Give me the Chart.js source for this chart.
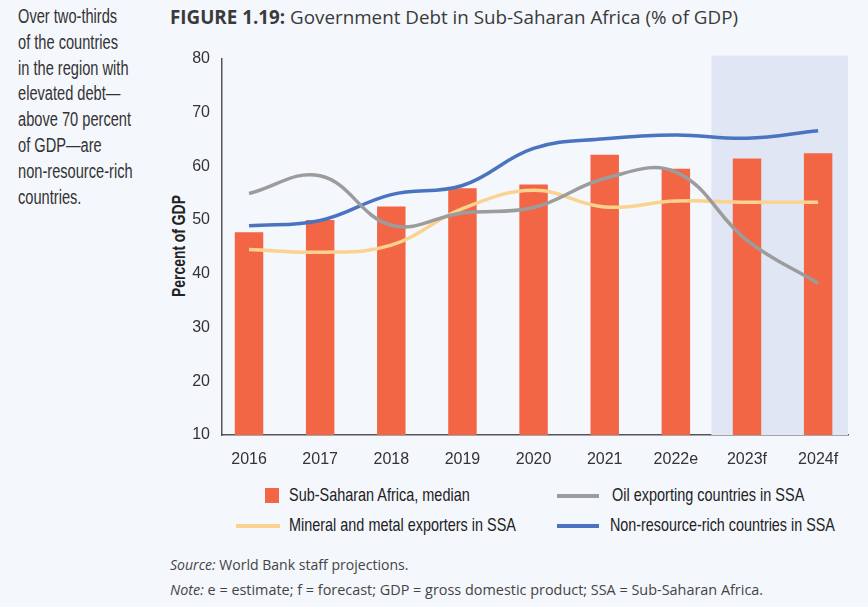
<!DOCTYPE html>
<html>
<head>
<meta charset="utf-8">
<script src="https://cdn.jsdelivr.net/npm/chart.js@4"></script>
<style>
  html, body { margin:0; padding:0; }
  body { width:868px; height:607px; background:#F4F7FC; position:relative; overflow:hidden; font-family:"Open Sans", sans-serif; }
  .fit { position:absolute; white-space:nowrap; transform-origin:left center; }
  #side { position:absolute; left:18px; top:4px; font-family:"Liberation Sans",sans-serif; font-size:19.5px; line-height:25.8px; color:#333; white-space:nowrap; transform-origin:left top; }
  #title { left:170px; top:4px; font-size:19px; color:#3a3a3a; }
  #title b { font-weight:700; }
  #ytitle { position:absolute; left:179px; top:246px; font-family:"Liberation Sans",sans-serif; font-weight:bold; font-size:18.5px; color:#222; white-space:nowrap; }
  #wrap { position:absolute; left:150px; top:37px; width:718px; height:443px; }
  .leg { font-family:"Liberation Sans",sans-serif; font-size:19px; color:#222; }
  .sw { position:absolute; }
  .foot { left:170px; font-size:14px; color:#444; }
</style>
</head>
<body>
<div id="side"><span id="l1">Over two-thirds</span><br>of the countries<br>in the region with<br>elevated debt—<br>above 70 percent<br>of GDP—are<br>non-resource-rich<br>countries.</div>
<div id="title" class="fit" data-w="568"><b>FIGURE 1.19:</b> Government Debt in Sub-Saharan Africa (% of GDP)</div>
<div id="ytitle">Percent of GDP</div>
<div id="wrap"><canvas id="c"></canvas></div>

<div class="sw" style="left:265px;top:488px;width:14px;height:15px;background:#F26646;"></div>
<div class="fit leg" data-w="181" style="left:289px;top:484px;">Sub-Saharan Africa, median</div>
<div class="sw" style="left:557px;top:494px;width:42px;height:4px;background:#9C9C9C;"></div>
<div class="fit leg" data-w="192" style="left:612px;top:484px;">Oil exporting countries in SSA</div>
<div class="sw" style="left:236px;top:524px;width:44px;height:4px;background:#FBD28E;"></div>
<div class="fit leg" data-w="227" style="left:289px;top:514px;">Mineral and metal exporters in SSA</div>
<div class="sw" style="left:557px;top:524px;width:42px;height:4px;background:#4A74C0;"></div>
<div class="fit leg" data-w="225" style="left:610px;top:514px;">Non-resource-rich countries in SSA</div>

<div class="fit foot" data-w="238" style="top:555px;"><i>Source:</i> World Bank staff projections.</div>
<div class="fit foot" data-w="593" style="top:580px;"><i>Note:</i> e = estimate; f = forecast; GDP = gross domestic product; SSA = Sub-Saharan Africa.</div>

<script>
const categories = ["2016","2017","2018","2019","2020","2021","2022e","2023f","2024f"];
const ssaMedian  = [47.7, 50.0, 52.5, 55.9, 56.6, 62.1, 59.5, 61.4, 62.4];
const oilExporters = [54.9, 58.2, 49.0, 51.3, 52.3, 57.7, 58.9, 46.2, 38.2];
const mineralExporters = [44.5, 44.0, 45.3, 52.1, 55.5, 52.4, 53.5, 53.3, 53.3];
const nonResourceRich = [48.9, 49.9, 54.7, 56.4, 63.3, 65.1, 65.8, 65.2, 66.6];
const yTicks = [10, 20, 30, 40, 50, 60, 70, 80];
const forecastStart = 6.5;

// fit text widths
document.querySelectorAll('.fit').forEach(el => {
  const w = el.offsetWidth, t = +el.dataset.w;
  el.style.transform = `scaleX(${t / w})`;
});
(function(){
  const side = document.getElementById('side');
  const l1 = document.getElementById('l1');
  const f = 99 / l1.offsetWidth;
  side.style.transform = `scaleX(${f})`;
  const yt = document.getElementById('ytitle');
  const fy = 102 / yt.offsetWidth;
  yt.style.transform = `translate(-50%,-50%) rotate(-90deg) scaleX(${fy})`;
})();

const pts = arr => arr.map((v, i) => ({x: i, y: v}));
const tickFont = { family:'"Liberation Sans", sans-serif', size:16 };

const shade = {
  id: 'shade',
  beforeDatasetsDraw(chart) {
    const {ctx, chartArea, scales} = chart;
    const x0 = scales.x.getPixelForValue(forecastStart);
    ctx.save();
    ctx.fillStyle = '#E0E6F3';
    ctx.fillRect(x0, chartArea.top - 3, chartArea.right - x0, chartArea.bottom - chartArea.top + 3);
    ctx.restore();
  }
};

new Chart(document.getElementById('c'), {
  data: {
    datasets: [
      { type:'line', label:'Oil exporting countries in SSA', data: pts(oilExporters), borderColor:'#9C9C9C', borderWidth:3.5, pointRadius:0, tension:0.4, order:1 },
      { type:'line', label:'Mineral and metal exporters in SSA', data: pts(mineralExporters), borderColor:'#FBD28E', borderWidth:3.5, pointRadius:0, tension:0.4, order:1 },
      { type:'line', label:'Non-resource-rich countries in SSA', data: pts(nonResourceRich), borderColor:'#4A74C0', borderWidth:3.5, pointRadius:0, tension:0.4, order:1 },
      { type:'bar', label:'Sub-Saharan Africa, median', data: pts(ssaMedian), backgroundColor:'#F26646', barPercentage:0.4, categoryPercentage:1.0, order:2 }
    ]
  },
  options: {
    responsive:true, maintainAspectRatio:false, animation:false,
    layout: { padding: { left:0, right:20, top:9, bottom:12 } },
    plugins: { legend:{display:false}, tooltip:{enabled:false} },
    scales: {
      x: {
        type:'linear', min:-0.38, max:8.42, offset:false,
        afterBuildTicks(s){ s.ticks = categories.map((c, i) => ({value:i})); },
        afterFit(s){ s.height = 33; },
        grid:{ display:false, drawTicks:false },
        border:{ display:true, color:'#555', width:1.5 },
        ticks:{ color:'#333', font:tickFont, padding:15, maxRotation:0, autoSkip:false, callback:(v) => categories[v] }
      },
      y: {
        min:10, max:80,
        afterBuildTicks(s){ s.ticks = yTicks.map(v => ({value:v})); },
        afterFit(s){ s.width = 72; },
        grid:{ display:false, drawTicks:false },
        border:{ display:true, color:'#555', width:1.5 },
        ticks:{ color:'#333', font:tickFont, padding:12 }
      }
    }
  },
  plugins:[shade]
});
</script>
</body>
</html>
